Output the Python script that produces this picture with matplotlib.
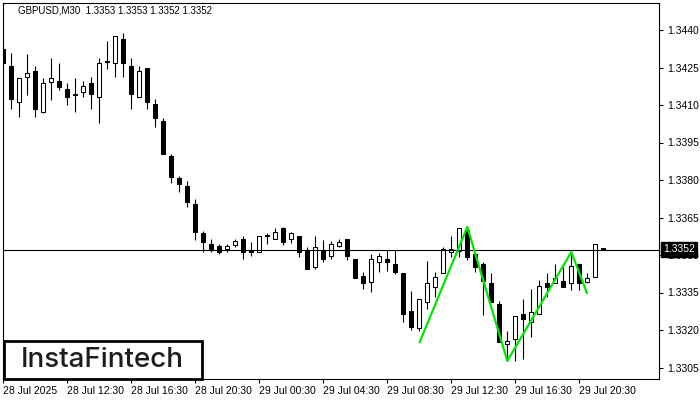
import matplotlib
matplotlib.use('Agg')
import matplotlib.pyplot as plt
from matplotlib.patches import Rectangle

# ---- data ----
opens = [1.34324, 1.34256, 1.34112, 1.34212, 1.34236, 1.34072, 1.34192, 1.34196, 1.34164, 1.34144,
         1.34152, 1.34188, 1.34132, 1.34276, 1.34268, 1.34364, 1.34256, 1.34132, 1.34248, 1.34104,
         1.34036, 1.33896, 1.33808, 1.33776, 1.33704, 1.33588, 1.33544, 1.33536, 1.33524, 1.33540,
         1.33564, 1.33520, 1.33512, 1.33580, 1.33564, 1.33608, 1.33564, 1.33576, 1.33520, 1.33452,
         1.33520, 1.33496, 1.33536, 1.33564, 1.33484, 1.33416, 1.33392, 1.33472, 1.33484, 1.33464,
         1.33428, 1.33276, 1.33208, 1.33312, 1.33372, 1.33428, 1.33512, 1.33516, 1.33600, 1.33504,
         1.33464, 1.33388, 1.33304, 1.33144, 1.33164, 1.33264, 1.33232, 1.33264, 1.33388, 1.33388,
         1.33396, 1.33388, 1.33464, 1.33392, 1.33412, 1.33530]
highs = [1.34340, 1.34308, 1.34208, 1.34304, 1.34256, 1.34208, 1.34288, 1.34268, 1.34188, 1.34208,
         1.34196, 1.34212, 1.34288, 1.34356, 1.34376, 1.34388, 1.34288, 1.34256, 1.34248, 1.34124,
         1.34048, 1.33904, 1.33816, 1.33796, 1.33724, 1.33596, 1.33564, 1.33544, 1.33544, 1.33564,
         1.33576, 1.33552, 1.33576, 1.33588, 1.33608, 1.33612, 1.33592, 1.33576, 1.33532, 1.33576,
         1.33560, 1.33556, 1.33564, 1.33564, 1.33484, 1.33432, 1.33504, 1.33508, 1.33520, 1.33520,
         1.33428, 1.33356, 1.33324, 1.33476, 1.33432, 1.33532, 1.33576, 1.33608, 1.33612, 1.33504,
         1.33472, 1.33428, 1.33316, 1.33196, 1.33256, 1.33324, 1.33364, 1.33400, 1.33428, 1.33464,
         1.33452, 1.33512, 1.33464, 1.33428, 1.33544, 1.33530]
lows = [1.34256, 1.34084, 1.34052, 1.34140, 1.34052, 1.34068, 1.34120, 1.34160, 1.34100, 1.34072,
        1.34132, 1.34084, 1.34028, 1.34244, 1.34212, 1.34212, 1.34084, 1.34132, 1.34084, 1.34012,
        1.33904, 1.33788, 1.33752, 1.33692, 1.33560, 1.33512, 1.33512, 1.33504, 1.33512, 1.33532,
        1.33484, 1.33496, 1.33512, 1.33544, 1.33564, 1.33540, 1.33548, 1.33492, 1.33444, 1.33444,
        1.33474, 1.33484, 1.33532, 1.33480, 1.33408, 1.33364, 1.33352, 1.33432, 1.33436, 1.33424,
        1.33232, 1.33200, 1.33196, 1.33284, 1.33332, 1.33428, 1.33492, 1.33492, 1.33480, 1.33432,
        1.33260, 1.33312, 1.33152, 1.33076, 1.33076, 1.33084, 1.33172, 1.33264, 1.33332, 1.33388,
        1.33372, 1.33360, 1.33360, 1.33388, 1.33412, 1.33520]
closes = [1.34268, 1.34124, 1.34208, 1.34228, 1.34084, 1.34188, 1.34208, 1.34172, 1.34132, 1.34140,
          1.34176, 1.34144, 1.34268, 1.34272, 1.34376, 1.34268, 1.34144, 1.34236, 1.34112, 1.34048,
          1.33904, 1.33812, 1.33784, 1.33712, 1.33592, 1.33552, 1.33524, 1.33512, 1.33536, 1.33556,
          1.33512, 1.33512, 1.33576, 1.33578, 1.33592, 1.33552, 1.33588, 1.33512, 1.33444, 1.33532,
          1.33484, 1.33544, 1.33552, 1.33496, 1.33408, 1.33388, 1.33484, 1.33496, 1.33472, 1.33432,
          1.33264, 1.33212, 1.33324, 1.33388, 1.33412, 1.33524, 1.33524, 1.33608, 1.33492, 1.33452,
          1.33396, 1.33312, 1.33152, 1.33156, 1.33256, 1.33244, 1.33272, 1.33376, 1.33372, 1.33408,
          1.33372, 1.33456, 1.33388, 1.33408, 1.33544, 1.33520]

time_tick_idx = [0, 8, 16, 24, 32, 40, 48, 56, 64, 72]
time_tick_labels = ["28 Jul 2025", "28 Jul 12:30", "28 Jul 16:30", "28 Jul 20:30",
                    "29 Jul 00:30", "29 Jul 04:30", "29 Jul 08:30", "29 Jul 12:30",
                    "29 Jul 16:30", "29 Jul 20:30"]
price_ticks = [1.3305, 1.3320, 1.3335, 1.3350, 1.3365, 1.3380, 1.3395, 1.3410, 1.3425, 1.3440]
pattern_idx = [52, 58, 63, 71, 73]
pattern_price = [1.33148, 1.33612, 1.33076, 1.33512, 1.33344]
last_price = 1.3352
header = "GBPUSD,M30  1.3353 1.3353 1.3352 1.3352"

plt.rcParams['font.family'] = ['Liberation Sans', 'DejaVu Sans']

# ---- figure ----
W, H = 700, 400
fig = plt.figure(figsize=(W / 100, H / 100), dpi=100)
fig.patch.set_facecolor('white')
ax = fig.add_axes([2.5 / W, 21 / H, (659 - 2.5) / W, (397 - 21) / H])
ax.set_facecolor('white')

for i, (o, h, l, c) in enumerate(zip(opens, highs, lows, closes)):
    ax.vlines(i, l, h, color='black', lw=0.8, zorder=2)
    face = 'white' if c > o else 'black'
    ax.bar(i, abs(c - o), bottom=min(o, c), width=0.5, color=face,
           edgecolor='black', linewidth=0.75, zorder=3)

ax.axhline(last_price, color='black', lw=0.8, zorder=4)
ax.plot(pattern_idx, pattern_price, color='#00e600', lw=1.6, zorder=5,
        solid_capstyle='butt')

ax.set_xlim(-0.1, 81.96)
ax.set_ylim(1.33004, 1.34508)

for s in ax.spines.values():
    s.set_linewidth(0.8)
    s.set_color('black')

ax.yaxis.tick_right()
ax.set_yticks(price_ticks)
ax.set_yticklabels([f"{p:.4f}" for p in price_ticks])
ax.tick_params(axis='y', direction='out', length=3, width=0.8, pad=3, labelsize=7.5)
ax.set_xticks(time_tick_idx)
ax.set_xticklabels(time_tick_labels, ha='left')
ax.tick_params(axis='x', direction='out', length=3, width=0.8, pad=2, labelsize=7.5)

fig.text(18 / W, 1 - 10.5 / H, header, fontsize=7, ha='left', va='center')

fig.text(663 / W, 1 - 249.5 / H, f"{last_price:.4f}", color='white', fontsize=7.5,
         ha='left', va='center', zorder=12,
         bbox=dict(boxstyle='square,pad=0.2', fc='black', ec='black'))

fig.patches.append(Rectangle((3.5 / W, 21 / H), 198 / W, 38.5 / H, transform=fig.transFigure,
                             fc='white', ec='black', lw=2, zorder=10))
fig.text(102 / W, 1 - 360 / H, "InstaFintech", fontsize=20, family='Inter',
         fontweight='medium', color='#1c1c1c', ha='center', va='center', zorder=11)

fig.savefig('out.png', dpi=100)
